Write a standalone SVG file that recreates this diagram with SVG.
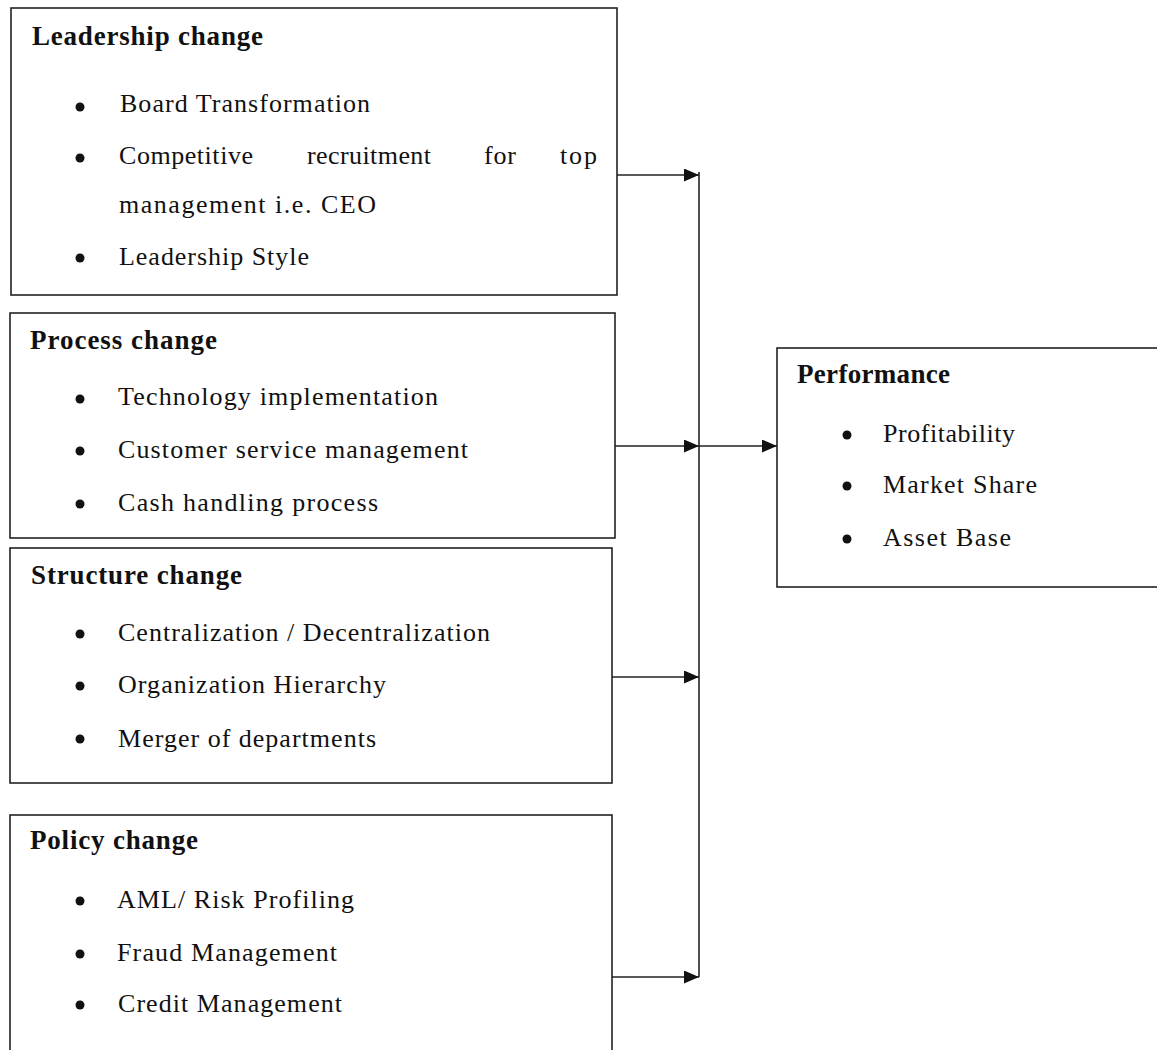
<svg xmlns="http://www.w3.org/2000/svg" width="1157" height="1050" viewBox="0 0 1157 1050">
<style>
.box{fill:#fff;stroke:#222;stroke-width:1.6}
.t{font-family:"Liberation Serif","Times New Roman",serif;font-size:27px;font-weight:bold;fill:#111}
.i{font-family:"Liberation Serif","Times New Roman",serif;font-size:26px;fill:#111}
.b{fill:#111}
.c{fill:none;stroke:#222;stroke-width:1.6}
</style>
<defs>
<marker id="ah" markerUnits="userSpaceOnUse" markerWidth="16" markerHeight="14" refX="15" refY="6.5" orient="auto">
<path d="M0,0 L15,6.5 L0,13 Z" fill="#111"/>
</marker>
</defs>
<rect width="1157" height="1050" fill="#fff"/>
<g id="leadership">
<rect class="box" x="11" y="8" width="606" height="287"/>
<text class="t" x="32" y="45" textLength="231" lengthAdjust="spacing">Leadership change</text>
<circle class="b" cx="80" cy="107" r="4.5"/>
<text class="i" x="120" y="112" textLength="250" lengthAdjust="spacing">Board Transformation</text>
<circle class="b" cx="80" cy="158" r="4.5"/>
<text class="i" x="119" y="164" textLength="134" lengthAdjust="spacing">Competitive</text>
<text class="i" x="307" y="164" textLength="124" lengthAdjust="spacing">recruitment</text>
<text class="i" x="484" y="164" textLength="32" lengthAdjust="spacing">for</text>
<text class="i" x="560" y="164" textLength="37" lengthAdjust="spacing">top</text>
<text class="i" x="119" y="213" textLength="257" lengthAdjust="spacing">management  i.e. CEO</text>
<circle class="b" cx="80" cy="258" r="4.5"/>
<text class="i" x="119" y="265" textLength="190" lengthAdjust="spacing">Leadership  Style</text>
</g>
<g id="process">
<rect class="box" x="10" y="313" width="605" height="225"/>
<text class="t" x="30" y="349" textLength="187" lengthAdjust="spacing">Process change</text>
<circle class="b" cx="80" cy="399" r="4.5"/>
<text class="i" x="118" y="405" textLength="320" lengthAdjust="spacing">Technology  implementation</text>
<circle class="b" cx="80" cy="451" r="4.5"/>
<text class="i" x="118" y="458" textLength="350" lengthAdjust="spacing">Customer  service  management</text>
<circle class="b" cx="80" cy="504" r="4.5"/>
<text class="i" x="118" y="511" textLength="260" lengthAdjust="spacing">Cash handling  process</text>
</g>
<g id="structure">
<rect class="box" x="10" y="548" width="602" height="235"/>
<text class="t" x="31" y="584" textLength="211" lengthAdjust="spacing">Structure  change</text>
<circle class="b" cx="80" cy="634" r="4.5"/>
<text class="i" x="118" y="641" textLength="372" lengthAdjust="spacing">Centralization  / Decentralization</text>
<circle class="b" cx="80" cy="686" r="4.5"/>
<text class="i" x="118" y="693" textLength="268" lengthAdjust="spacing">Organization  Hierarchy</text>
<circle class="b" cx="80" cy="739" r="4.5"/>
<text class="i" x="118" y="747" textLength="258" lengthAdjust="spacing">Merger  of departments</text>
</g>
<g id="policy">
<rect class="box" x="10" y="815" width="602" height="260"/>
<text class="t" x="30" y="849" textLength="168" lengthAdjust="spacing">Policy  change</text>
<circle class="b" cx="80" cy="901" r="4.5"/>
<text class="i" x="117" y="908" textLength="237" lengthAdjust="spacing">AML/ Risk Profiling</text>
<circle class="b" cx="80" cy="954" r="4.5"/>
<text class="i" x="117" y="961" textLength="220" lengthAdjust="spacing">Fraud Management</text>
<circle class="b" cx="80" cy="1005" r="4.5"/>
<text class="i" x="118" y="1012" textLength="224" lengthAdjust="spacing">Credit Management</text>
</g>
<g id="performance">
<rect class="box" x="777" y="348" width="400" height="239"/>
<text class="t" x="797" y="383" textLength="153" lengthAdjust="spacing">Performance</text>
<circle class="b" cx="847" cy="435" r="4.5"/>
<text class="i" x="883" y="442" textLength="132" lengthAdjust="spacing">Profitability</text>
<circle class="b" cx="847" cy="486" r="4.5"/>
<text class="i" x="883" y="493" textLength="154" lengthAdjust="spacing">Market Share</text>
<circle class="b" cx="847" cy="539" r="4.5"/>
<text class="i" x="883" y="546" textLength="128" lengthAdjust="spacing">Asset Base</text>
</g>
<g id="connectors">
<line class="c" x1="699" y1="172" x2="699" y2="977"/>
<line class="c" x1="617" y1="175" x2="699" y2="175" marker-end="url(#ah)"/>
<line class="c" x1="615" y1="446" x2="699" y2="446" marker-end="url(#ah)"/>
<line class="c" x1="699" y1="446" x2="777" y2="446" marker-end="url(#ah)"/>
<line class="c" x1="612" y1="677" x2="699" y2="677" marker-end="url(#ah)"/>
<line class="c" x1="612" y1="977" x2="699" y2="977" marker-end="url(#ah)"/>
</g>
</svg>
